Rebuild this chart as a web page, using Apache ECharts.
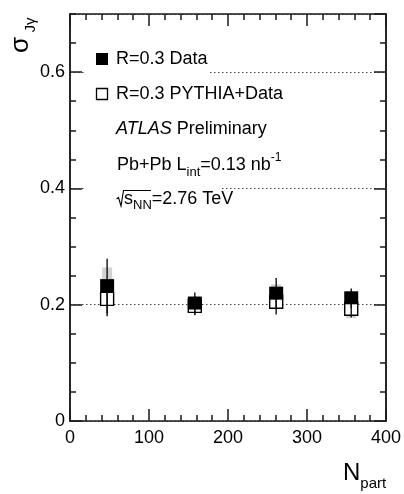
<!DOCTYPE html>
<html><head><meta charset="utf-8">
<script src="https://cdn.jsdelivr.net/npm/echarts@6/dist/echarts.min.js"></script>
<style>html,body{margin:0;padding:0;background:#fff}#c{width:404px;height:494px}</style>
</head><body><div id="c"></div>
<script>
// ---- data ----
const npart = [47, 158, 261, 356];
const dataVal = [0.232, 0.202, 0.219, 0.211];
const dataStat = [0.047, 0.019, 0.027, 0.017];
const dataSys = [0.032, 0.012, 0.016, 0.012];
const pyVal = [0.210, 0.198, 0.205, 0.193];
const pyStat = [0.030, 0.016, 0.022, 0.015];
const pySys = [0.012, 0.008, 0.010, 0.016];
const xTickLabels = ['0', '100', '200', '300', '400'];
const yTickLabels = ['0', '0.2', '0.4', '0.6'];
const xRange = [0, 400], xStep = 100;
const yRange = [0, 0.7], yStep = 0.2, yMinorStep = 0.05;

const FONT = '"Liberation Sans", Arial, Helvetica, sans-serif';
const AX = '#1a1a1a';
const chart = echarts.init(document.getElementById('c'), null, {renderer: 'canvas'});

const mctx = document.createElement('canvas').getContext('2d');
function tw(t, size, style) {
  mctx.font = (style || 'normal') + ' ' + size + 'px ' + FONT;
  return mctx.measureText(t).width;
}
function runs(x, y, segs) {
  const out = []; let cx = x;
  segs.forEach(s => {
    const [text, size, dy, fstyle] = s;
    out.push({type: 'text', x: cx, y: y + (dy || 0), z: 10,
      style: {text, fontSize: size, fontFamily: FONT, fontStyle: fstyle || 'normal',
        fill: '#000', align: 'left', verticalAlign: 'middle'}});
    cx += tw(text, size, fstyle);
  });
  return out;
}

const lineStyle = {color: AX, width: 1.5};
function xAx(pos, labels) {
  return {type: 'value', position: pos, min: xRange[0], max: xRange[1], interval: xStep,
    axisLine: {show: true, onZero: false, lineStyle},
    axisTick: {show: true, inside: true, length: 12, lineStyle},
    minorTick: {show: true, splitNumber: 5, length: 6, lineStyle},
    axisLabel: {show: labels, fontSize: 18, fontFamily: FONT, color: '#000', margin: 8,
      formatter: v => xTickLabels[Math.round((v - xRange[0]) / xStep)] || ''},
    splitLine: {show: false}};
}
function yAx(pos, step, len, labels, split) {
  return {type: 'value', position: pos, min: yRange[0], max: yRange[1], interval: step,
    axisLine: {show: true, onZero: false, lineStyle},
    axisTick: {show: true, inside: true, length: len, lineStyle},
    axisLabel: {show: labels, fontSize: 18, fontFamily: FONT, color: '#000', margin: 5,
      showMaxLabel: false,
      formatter: v => { const i = Math.round(v / yStep); return Math.abs(i * yStep - v) < 1e-6 ? (yTickLabels[i] || '') : ''; }},
    splitLine: {show: split, lineStyle: {type: [1.5, 2.5], color: '#444', width: 1}}};
}

const graphics = [
  // white legend boxes that hide the dotted lines behind them
  {type: 'rect', z: 5, shape: {x: 84, y: 66, width: 125, height: 20}, style: {fill: '#fff'}},
  {type: 'rect', z: 5, shape: {x: 84, y: 182, width: 138, height: 12}, style: {fill: '#fff'}},
  // legend markers
  {type: 'rect', z: 10, shape: {x: 96, y: 53, width: 12, height: 12}, style: {fill: '#000'}},
  {type: 'rect', z: 10, shape: {x: 96.5, y: 88.5, width: 11, height: 11}, style: {fill: '#fff', stroke: '#000', lineWidth: 1.3}},
  // sqrt sign
  {type: 'polyline', z: 10, shape: {points: [[116.5, 199], [118.5, 197.5], [121, 206], [123.5, 190.5], [151, 190.5]]},
    style: {stroke: '#000', lineWidth: 1.1, fill: null}},
  // y axis title sigma_Jgamma
  {type: 'text', x: 21, y: 45, rotation: Math.PI / 2, z: 10,
    style: {text: 'σ', fontSize: 26, fontFamily: FONT, fill: '#000', align: 'center', verticalAlign: 'middle'}},
  {type: 'text', x: 31, y: 25, rotation: Math.PI / 2, z: 10,
    style: {text: 'Jγ', fontSize: 15, fontFamily: FONT, fill: '#000', align: 'center', verticalAlign: 'middle'}}
]
.concat(runs(116, 59, [['R=0.3 Data', 18]]))
.concat(runs(116, 94, [['R=0.3 PYTHIA+Data', 18]]))
.concat(runs(116, 129, [['ATLAS', 18, 0, 'italic'], [' Preliminary', 18]]))
.concat(runs(117, 165, [['Pb+Pb L', 18], ['int', 13, 7], ['=0.13 nb', 18], ['-1', 12, -7]]))
.concat(runs(124, 199, [['s', 18], ['NN', 13, 6], ['=2.76 TeV', 18]]))
.concat(runs(343, 473, [['N', 24], ['part', 15, 11]]));

const series = [{
  type: 'custom', name: 'R=0.3 Data / PYTHIA+Data', xAxisIndex: 0, yAxisIndex: 0, clip: false, z: 4,
  data: npart.map((n, i) => [n, dataVal[i], dataStat[i], dataSys[i], pyVal[i], pyStat[i], pySys[i]]),
  encode: {x: 0, y: 1},
  renderItem: (params, api) => {
    const n = api.value(0);
    const x = api.coord([n, 0])[0];
    const Y = v => api.coord([n, v])[1];
    const d = api.value(1), ds = api.value(2), dsy = api.value(3);
    const p = api.value(4), ps = api.value(5), psy = api.value(6);
    const S = 14, h = S / 2, bw = 5;
    const band = (v, e) => ({type: 'rect', shape: {x: x - bw, y: Y(v + e), width: 2 * bw, height: Y(v - e) - Y(v + e)},
      style: {fill: '#d2d2d2'}});
    const err = (v, e) => ({type: 'line', shape: {x1: x, y1: Y(v + e), x2: x, y2: Y(v - e)},
      style: {stroke: '#111', lineWidth: 1.4}});
    return {type: 'group', children: [
      band(p, psy), band(d, dsy),
      {type: 'rect', shape: {x: x - h + 0.5, y: Y(p) - h + 0.5, width: S - 1, height: S - 1},
        style: {fill: '#fff', stroke: '#000', lineWidth: 1.4}},
      err(p, ps), err(d, ds),
      {type: 'rect', shape: {x: x - h, y: Y(d) - h, width: S, height: S - 1}, style: {fill: '#000'}}
    ]};
  }
}];

chart.setOption({
  animation: false,
  backgroundColor: '#fff',
  grid: {left: 70, right: 13, top: 14, bottom: 73, containLabel: false},
  xAxis: [xAx('bottom', true), xAx('top', false)],
  yAxis: [
    yAx('left', yStep, 12, true, true),
    yAx('left', yMinorStep, 6, false, false),
    yAx('right', yStep, 12, false, false),
    yAx('right', yMinorStep, 6, false, false)
  ],
  graphic: graphics,
  series
});
</script></body></html>
